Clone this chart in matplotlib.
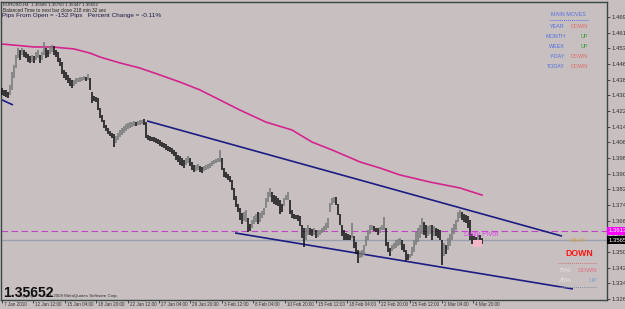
import matplotlib.pyplot as plt
from matplotlib.lines import Line2D
from matplotlib.patches import Rectangle
import matplotlib.transforms as mtrans
import numpy as np

plt.rcParams['font.family'] = ['Liberation Sans', 'DejaVu Sans']

# EURUSD H4 bars, one entry per bar
highs = [1.4338, 1.4328, 1.4328, 1.4318, 1.4353, 1.4419, 1.4454, 1.4505, 1.4541, 1.4531,
         1.4541, 1.4531, 1.4520, 1.4510, 1.4500, 1.4505, 1.4500, 1.4520, 1.4531, 1.4505,
         1.4520, 1.4571, 1.4541, 1.4531, 1.4551, 1.4556, 1.4551, 1.4531, 1.4520, 1.4490,
         1.4470, 1.4429, 1.4419, 1.4404, 1.4389, 1.4378, 1.4378, 1.4389, 1.4389, 1.4394,
         1.4394, 1.4399, 1.4394, 1.4409, 1.4389, 1.4318, 1.4297, 1.4292, 1.4287, 1.4236,
         1.4201, 1.4176, 1.4150, 1.4135, 1.4120, 1.4110, 1.4105, 1.4094, 1.4110, 1.4125,
         1.4135, 1.4145, 1.4155, 1.4160, 1.4165, 1.4165, 1.4171, 1.4165, 1.4171, 1.4176,
         1.4176, 1.4181, 1.4165, 1.4099, 1.4094, 1.4089, 1.4089, 1.4084, 1.4079, 1.4074,
         1.4064, 1.4059, 1.4054, 1.4044, 1.4039, 1.4034, 1.4024, 1.4013, 1.3998, 1.3993,
         1.3983, 1.3973, 1.3983, 1.3993, 1.3983, 1.3963, 1.3947, 1.3947, 1.3953, 1.3942,
         1.3937, 1.3942, 1.3947, 1.3953, 1.3958, 1.3968, 1.3973, 1.3978, 1.3983, 1.4024,
         1.3983, 1.3932, 1.3912, 1.3902, 1.3892, 1.3871, 1.3831, 1.3790, 1.3750, 1.3729,
         1.3704, 1.3709, 1.3719, 1.3679, 1.3648, 1.3669, 1.3689, 1.3699, 1.3709, 1.3704,
         1.3714, 1.3729, 1.3780, 1.3811, 1.3831, 1.3811, 1.3795, 1.3790, 1.3780, 1.3770,
         1.3750, 1.3780, 1.3795, 1.3811, 1.3770, 1.3719, 1.3699, 1.3694, 1.3694, 1.3689,
         1.3643, 1.3628, 1.3628, 1.3643, 1.3628, 1.3623, 1.3628, 1.3618, 1.3618, 1.3618,
         1.3628, 1.3638, 1.3654, 1.3679, 1.3755, 1.3780, 1.3785, 1.3785, 1.3750, 1.3699,
         1.3643, 1.3618, 1.3603, 1.3598, 1.3593, 1.3654, 1.3587, 1.3557, 1.3517, 1.3511,
         1.3517, 1.3542, 1.3587, 1.3618, 1.3643, 1.3643, 1.3638, 1.3628, 1.3628, 1.3633,
         1.3643, 1.3684, 1.3628, 1.3557, 1.3527, 1.3542, 1.3552, 1.3567, 1.3572, 1.3577,
         1.3567, 1.3547, 1.3517, 1.3496, 1.3496, 1.3532, 1.3567, 1.3608, 1.3628, 1.3643,
         1.3679, 1.3659, 1.3643, 1.3638, 1.3643, 1.3643, 1.3638, 1.3628, 1.3623, 1.3618,
         1.3567, 1.3552, 1.3542, 1.3577, 1.3598, 1.3628, 1.3648, 1.3669, 1.3709, 1.3719,
         1.3709, 1.3699, 1.3694, 1.3689, 1.3669, 1.3598, 1.3587, 1.3582, 1.3593, 1.3593, 1.3577]
lows = [1.4302, 1.4297, 1.4292, 1.4287, 1.4302, 1.4328, 1.4389, 1.4439, 1.4490, 1.4480,
        1.4505, 1.4495, 1.4490, 1.4470, 1.4465, 1.4470, 1.4465, 1.4480, 1.4490, 1.4465,
        1.4480, 1.4505, 1.4490, 1.4495, 1.4510, 1.4520, 1.4505, 1.4495, 1.4470, 1.4449,
        1.4409, 1.4389, 1.4378, 1.4363, 1.4348, 1.4338, 1.4348, 1.4358, 1.4368, 1.4368,
        1.4373, 1.4378, 1.4373, 1.4378, 1.4328, 1.4262, 1.4272, 1.4267, 1.4226, 1.4186,
        1.4165, 1.4135, 1.4120, 1.4105, 1.4094, 1.4084, 1.4039, 1.4059, 1.4074, 1.4089,
        1.4099, 1.4110, 1.4120, 1.4130, 1.4135, 1.4140, 1.4145, 1.4145, 1.4150, 1.4150,
        1.4155, 1.4150, 1.4084, 1.4074, 1.4069, 1.4069, 1.4064, 1.4059, 1.4054, 1.4044,
        1.4039, 1.4034, 1.4024, 1.4018, 1.4013, 1.4003, 1.3993, 1.3973, 1.3963, 1.3947,
        1.3942, 1.3932, 1.3947, 1.3958, 1.3942, 1.3922, 1.3912, 1.3917, 1.3922, 1.3912,
        1.3907, 1.3917, 1.3922, 1.3927, 1.3932, 1.3942, 1.3953, 1.3958, 1.3963, 1.3963,
        1.3922, 1.3887, 1.3882, 1.3871, 1.3861, 1.3821, 1.3770, 1.3735, 1.3709, 1.3669,
        1.3648, 1.3664, 1.3659, 1.3608, 1.3613, 1.3628, 1.3648, 1.3659, 1.3648, 1.3659,
        1.3679, 1.3694, 1.3729, 1.3760, 1.3785, 1.3760, 1.3750, 1.3745, 1.3740, 1.3699,
        1.3709, 1.3740, 1.3770, 1.3770, 1.3699, 1.3679, 1.3674, 1.3674, 1.3664, 1.3638,
        1.3577, 1.3532, 1.3567, 1.3593, 1.3593, 1.3587, 1.3593, 1.3577, 1.3582, 1.3593,
        1.3603, 1.3608, 1.3618, 1.3628, 1.3709, 1.3745, 1.3755, 1.3745, 1.3694, 1.3643,
        1.3587, 1.3567, 1.3567, 1.3567, 1.3567, 1.3577, 1.3527, 1.3496, 1.3451, 1.3476,
        1.3481, 1.3491, 1.3537, 1.3567, 1.3598, 1.3618, 1.3613, 1.3608, 1.3593, 1.3603,
        1.3618, 1.3618, 1.3537, 1.3506, 1.3486, 1.3511, 1.3522, 1.3527, 1.3537, 1.3542,
        1.3517, 1.3506, 1.3461, 1.3466, 1.3476, 1.3486, 1.3506, 1.3542, 1.3557, 1.3577,
        1.3598, 1.3593, 1.3577, 1.3587, 1.3598, 1.3567, 1.3587, 1.3587, 1.3577, 1.3567,
        1.3440, 1.3486, 1.3496, 1.3517, 1.3537, 1.3567, 1.3598, 1.3618, 1.3659, 1.3679,
        1.3669, 1.3659, 1.3654, 1.3628, 1.3567, 1.3547, 1.3542, 1.3537, 1.3547, 1.3532, 1.3547]

# moving average (magenta), sampled at bar numbers
ma_bars = [0, 16, 25, 36, 44, 49, 59, 69, 79, 89, 99, 109, 119, 132, 145, 155, 165, 179, 189, 199, 214, 229, 240]
ma_vals = [1.4561, 1.4546, 1.4546, 1.4536, 1.4515, 1.4495, 1.4465, 1.4439, 1.4404, 1.4368, 1.4328, 1.4277,
           1.4226, 1.4165, 1.4125, 1.4064, 1.4024, 1.3963, 1.3932, 1.3897, 1.3861, 1.3831, 1.3795]

# trend lines: (bar1, bar2), (price1, price2)
trend_left = ([-1, 5.5], [1.4282, 1.4252])
trend_upper = ([72.5, 280], [1.4171, 1.3587])
trend_lower = ([116.5, 285.5], [1.3603, 1.3319])

pivot = 1.3613
last_price = 1.35652
pivot_box = (235.5, 240.0, 1.3532, 1.3567)

price_labels = ["1.46980", "1.46190", "1.45390", "1.44600", "1.43800", "1.43010", "1.42210",
                "1.41420", "1.40630", "1.39830", "1.39040", "1.38240", "1.37450", "1.36650",
                "1.35860", "1.35060", "1.34270", "1.33470", "1.32680"]
date_labels = ["7 Jan 2010", "12 Jan 12:00", "15 Jan 04:00", "18 Jan 20:00", "22 Jan 12:00",
               "27 Jan 04:00", "29 Jan 20:00", "3 Feb 12:00", "8 Feb 04:00", "10 Feb 20:00",
               "15 Feb 12:00", "18 Feb 04:00", "22 Feb 20:00", "25 Feb 12:00", "2 Mar 04:00",
               "4 Mar 20:00"]

moves_names = ["YEAR", "MONTH", "WEEK", "Y-DAY", "TODAY"]
moves_dirs = ["DOWN", "UP", "UP", "DOWN", "DOWN"]

BG = '#c8c0c0'
W, H = 625, 309
fig = plt.figure(figsize=(W / 100, H / 100), dpi=100, facecolor=BG)
ax = fig.add_axes([1 / W, 9 / H, 606 / W, 298 / H])
ax.set_facecolor(BG)
ax.set_xlim(-0.5, 302.5)
ax.set_ylim(1.3263, 1.4774)


def px(x, y):
    return x / W, 1 - y / H


# bars
n = len(highs)
xs = np.arange(n)
mid = (np.array(highs) + np.array(lows)) / 2
up = np.r_[False, mid[1:] > mid[:-1]]
ax.vlines(xs[~up], np.array(lows)[~up], np.array(highs)[~up], color='#151515', lw=1.15, zorder=3)
ax.vlines(xs[up], np.array(lows)[up], np.array(highs)[up], color='#7a7a7a', lw=1.15, zorder=3)

ax.plot(ma_bars, ma_vals, color='#d4248e', lw=1.2, zorder=2)
for bx, by in (trend_left, trend_upper, trend_lower):
    ax.plot(bx, by, color='#1c1c84', lw=1.2, zorder=2, solid_capstyle='butt')

ax.axhline(pivot, color='#c044c8', lw=0.8, dashes=(6, 3), zorder=1)
ax.axhline(last_price, color='#98a0b0', lw=1.0, zorder=1)
ax.add_patch(Rectangle((pivot_box[0], pivot_box[2]), pivot_box[1] - pivot_box[0],
                       pivot_box[3] - pivot_box[2], fc='#f2b8c8', ec='none', zorder=4))
ax.text(231, pivot, "Daily Pivot", color='#e040f0', fontsize=5.2, va='top', ha='left', zorder=5)

# axes styling
for s in ax.spines.values():
    s.set_color('#3a4646')
    s.set_linewidth(1.0)
ax.yaxis.tick_right()
ax.set_yticks([float(s) for s in price_labels])
ax.set_yticklabels(price_labels, fontsize=4.3, color='#303030')
ax.tick_params(axis='y', length=2, width=0.6, pad=1, colors='#303030')
ticks = [15.7 * i for i in range(len(date_labels))]
ax.set_xticks(ticks)
ax.set_xticklabels([])
ax.tick_params(axis='x', length=2.5, width=0.6, colors='#303030')
xt = ax.get_xaxis_transform()
for t, lab in zip(ticks, date_labels):
    ax.text(t + 1.0, -0.008, lab, transform=xt, fontsize=3.3, color='#303030',
            ha='left', va='top', clip_on=False)

# right price boxes
yt = mtrans.blended_transform_factory(ax.transAxes, ax.transData)
ax.text(1.003, pivot, "1.36130", transform=yt, fontsize=4.3, color='white', ha='left', va='center',
        clip_on=False, zorder=6, bbox=dict(boxstyle='square,pad=0.25', fc='#ff00ff', ec='none'))
ax.text(1.003, last_price, "1.35652", transform=yt, fontsize=4.3, color='white', ha='left', va='center',
        clip_on=False, zorder=6, bbox=dict(boxstyle='square,pad=0.25', fc='#000000', ec='none'))

# top-left info
fig.text(*px(3, 5), "EURUSD,H4  1.35586 1.35750 1.35447 1.35652", fontsize=3.2, color='#202020', va='center')
fig.text(*px(3, 10.5), "Balanced Time to next bar close 218 min 32 sec", fontsize=3.4, color='#202020', va='center')
fig.text(*px(2, 16), "Pips From Open = -152 Pips   Percent Change = -0.11%", fontsize=4.6, color='#1c1c48', va='center')

# main moves panel
fig.text(*px(568, 15), "MAIN MOVES", fontsize=3.9, color='#5070e0', ha='center', va='center')
fig.add_artist(Line2D([550 / W, 588 / W], [1 - 20 / H] * 2, color='#5070e0', lw=0.7, ls=(0, (1, 1))))
for i, (nm, d) in enumerate(zip(moves_names, moves_dirs)):
    yy = 27 + i * 9.8
    fig.text(*px(565, yy), nm, fontsize=3.9, color='#5070e0', ha='right', va='center')
    fig.text(*px(588, yy), d, fontsize=3.9, color='#e06868' if d == "DOWN" else '#3a9a3a', ha='right', va='center')

# bottom-right panel
fig.text(*px(578, 241), "WEAK", fontsize=4, color='#d8a040', ha='center', va='center', zorder=7)
fig.text(*px(579, 254), "DOWN", fontsize=6.3, color='#ff1414', ha='center', va='center', weight='bold')
fig.add_artist(Line2D([558 / W, 597 / W], [1 - 263 / H] * 2, color='#c87878', lw=0.7, ls=(0, (1, 1))))
fig.text(*px(565, 270), "75%", fontsize=4.5, color='#ece2e2', ha='center', va='center')
fig.text(*px(597, 270), "DOWN", fontsize=4.5, color='#e06a84', ha='right', va='center')
fig.text(*px(565, 280), "25%", fontsize=4.5, color='#ece2e2', ha='center', va='center')
fig.text(*px(597, 280), "UP", fontsize=4.5, color='#7aa0c8', ha='right', va='center')
fig.add_artist(Line2D([558 / W, 597 / W], [1 - 287 / H] * 2, color='#8090a0', lw=0.7, ls=(0, (1, 1))))

# bottom-left
fig.text(*px(118, 297), "Copyright \u00a9 2001-2009 MetaQuotes Software Corp.", fontsize=3.2,
         color='#303030', ha='right', va='baseline')
fig.text(*px(3, 297), "1.35652", fontsize=10, weight='bold', color='#101010', ha='left', va='baseline')

fig.savefig('out.png', dpi=100, facecolor=BG)
